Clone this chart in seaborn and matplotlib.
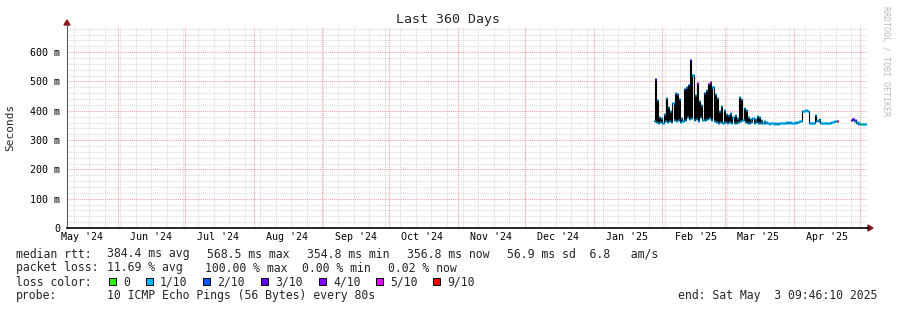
import numpy as np
import pandas as pd
import matplotlib
matplotlib.use("Agg")
import matplotlib.pyplot as plt
import matplotlib.dates as mdates
from matplotlib.patches import Rectangle
import seaborn as sns

W, H = 897, 310

# ---------------- data (ms), one entry per day from first_day ----------------
first_day = "2025-01-28"
rtt_hi = [508, 437, 380, 375, 388, 444, 412, 400, 425, 461,
          458, 440, 375, 475, 482, 489, 574, 522, 454, 495,
          432, 420, 462, 472, 492, 497, 480, 458, 444, 400,
          415, 402, 390, 385, 392, 380, 385, 375, 447, 440,
          410, 402, 380, 372, 375, 372, 382, 378, 368, 365,
          362, 360, 358, 360, 359, 358, 358, 360, 360, 361,
          362, 362, 360, 362, 362, 364, 366, 400, 403, 398,
          357, 357, 386, 368, 372, 357, 357, 357, 357, 358,
          363, 365, 365, np.nan, np.nan, np.nan, np.nan, np.nan, np.nan, 372,
          368, 362, 357, 355, 355, 355]
rtt_lo = [365, 362, 360, 362, 360, 365, 362, 365, 362, 368,
          365, 370, 362, 365, 370, 380, 372, 375, 368, 372,
          365, 380, 368, 370, 372, 375, 370, 365, 362, 360,
          362, 360, 362, 360, 362, 358, 360, 360, 362, 365,
          368, 362, 360, 360, 362, 360, 362, 360, 358, 358,
          360, 358, 356, 358, 356, 355, 356, 357, 358, 359,
          360, 360, 358, 360, 360, 362, 364, 398, 402, 398,
          357, 357, 357, 366, 366, 357, 357, 357, 357, 357,
          362, 364, 365, np.nan, np.nan, np.nan, np.nan, np.nan, np.nan, 370,
          366, 360, 356, 355, 355, 355]
loss_hi = [3, 1, 1, 1, 1, 1, 1, 1, 1, 1,
           2, 1, 1, 2, 1, 2, 3, 1, 1, 5,
           1, 1, 2, 1, 4, 5, 1, 1, 1, 1,
           1, 1, 1, 1, 1, 1, 1, 1, 1, 1,
           1, 1, 1, 1, 1, 1, 1, 1, 1, 1,
           1, 1, 1, 1, 1, 1, 1, 1, 1, 1,
           1, 1, 1, 1, 1, 1, 1, 1, 1, 1,
           1, 1, 1, 1, 1, 1, 1, 1, 1, 1,
           1, 1, 9, 1, 1, 1, 1, 1, 1, 3,
           2, 1, 1, 0, 1, 1]
loss_lo = [1, 1, 1, 1, 1, 1, 1, 1, 1, 1,
           1, 1, 1, 1, 1, 1, 1, 1, 1, 1,
           1, 1, 1, 1, 1, 1, 1, 1, 1, 1,
           1, 1, 1, 1, 1, 1, 1, 1, 1, 1,
           1, 1, 1, 1, 1, 1, 1, 1, 1, 1,
           1, 1, 1, 1, 1, 1, 1, 1, 1, 1,
           1, 1, 1, 1, 1, 1, 1, 1, 1, 1,
           1, 1, 1, 1, 1, 1, 1, 1, 1, 1,
           1, 1, 1, 1, 1, 1, 1, 1, 1, 3,
           1, 1, 1, 1, 1, 1]

loss_levels = [0, 1, 2, 3, 4, 5, 9]
loss_labels = ["0", "1/10", "2/10", "3/10", "4/10", "5/10", "9/10"]
loss_colors = ["#26ff00", "#00b8ff", "#0059ff", "#5e00ff", "#7e00ff", "#dd00ff", "#ff0000"]

y_ticks_ms = [0, 100, 200, 300, 400, 500, 600]
y_tick_labels = ["0", "100 m", "200 m", "300 m", "400 m", "500 m", "600 m"]

view_start = "2024-05-09 01:00"
view_end = "2025-05-04 01:00"
y_top_ms = 686

# ---------------- build the half-day series ----------------
days = pd.date_range(first_day, periods=len(rtt_hi), freq="D")
half = pd.Timedelta(hours=12)
rows = []
seg = 0
for d, lo, hi, llo, lhi in zip(days, rtt_lo, rtt_hi, loss_lo, loss_hi):
    if np.isnan(lo):
        seg += 1
        continue
    rows.append((d, lo / 1000.0, llo, seg))
    rows.append((d + half, hi / 1000.0, lhi, seg))
df = pd.DataFrame(rows, columns=["t", "v", "loss", "seg"])
ends = []
for s, g in df.groupby("seg"):
    last = g.iloc[-1]
    ends.append((last["t"] + half, last["v"], last["loss"], s))
df_line = pd.concat([df, pd.DataFrame(ends, columns=df.columns)]).sort_values(["seg", "t"])

color_of = dict(zip(loss_levels, loss_colors))

# ---------------- figure ----------------
sns.set_style("white")
plt.rcParams["font.family"] = ["DejaVu Sans Mono"]

fig = plt.figure(figsize=(W / 100, H / 100), dpi=100)
fig.patch.set_facecolor("white")
ax = fig.add_axes([67 / W, (H - 228) / H, 800 / W, 201 / H])
ax.set_facecolor("white")

x0 = mdates.date2num(pd.Timestamp(view_start))
x1 = mdates.date2num(pd.Timestamp(view_end))
ax.set_xlim(x0, x1)
ax.set_ylim(0, y_top_ms / 1000.0)

grid_minor = dict(color="#d9d9d9", lw=0.75, ls=(0, (1, 1)), zorder=0.5)
grid_major = dict(color="#f2a0a0", lw=0.75, ls=(0, (1, 1)), zorder=0.6)

for v in range(0, y_top_ms, 20):
    if v % 100 != 0 and v > 0:
        ax.axhline(v / 1000.0, **grid_minor)
for v in y_ticks_ms[1:]:
    ax.axhline(v / 1000.0, **grid_major)
sundays = pd.date_range(view_start, view_end, freq="W-SUN")
months = pd.date_range("2024-06-01", view_end, freq="MS")
for s in sundays:
    ax.axvline(mdates.date2num(s), **grid_minor)
for m in months:
    ax.axvline(mdates.date2num(m), **grid_major)

# median line transitions (black) with seaborn
sns.lineplot(data=df_line, x="t", y="v", units="seg", estimator=None,
             drawstyle="steps-post", color="black", lw=0.8, ax=ax,
             sort=False, legend=False, zorder=3)
# loss colored median segments
ax.hlines(df["v"], mdates.date2num(df["t"]), mdates.date2num(df["t"] + half),
          colors=[color_of[int(l)] for l in df["loss"]], lw=2.1, zorder=4,
          capstyle="butt")

ax.set_xlabel("")
ax.set_ylabel("")

label_days = [pd.Timestamp("2024-05-16")] + list(
    pd.date_range("2024-06-01", "2025-04-30", freq="MS") + pd.Timedelta(days=15))
ax.set_xticks([mdates.date2num(d) for d in label_days])
ax.set_xticklabels([d.strftime("%b '%y") for d in label_days])
ax.set_yticks([v / 1000.0 for v in y_ticks_ms])
ax.set_yticklabels(y_tick_labels)
ax.tick_params(axis="both", length=0, labelsize=7.2, colors="black")
ax.tick_params(axis="y", pad=5)
ax.tick_params(axis="x", pad=3)
ax.grid(False)

for sp in ["top", "right"]:
    ax.spines[sp].set_visible(False)
ax.spines["left"].set_color("#555555")
ax.spines["left"].set_linewidth(0.75)
ax.spines["bottom"].set_color("black")
ax.spines["bottom"].set_linewidth(1.2)
ax.spines["left"].set_zorder(5)
ax.spines["bottom"].set_zorder(5)

def fx(px):
    return px / W
def fy(py):
    return 1 - py / H

fig.add_artist(plt.Line2D([fx(67), fx(67)], [fy(27), fy(24)], color="#555555", lw=0.75))
fig.add_artist(plt.Line2D([fx(867), fx(869)], [fy(228), fy(228)], color="black", lw=1.2))
fig.add_artist(plt.Polygon([[fx(64), fy(25)], [fx(70), fy(25)], [fx(67), fy(20)]],
                           closed=True, color="#8b1a1a", transform=fig.transFigure))
fig.add_artist(plt.Polygon([[fx(868), fy(225)], [fx(868), fy(231)], [fx(873), fy(228)]],
                           closed=True, color="#8b1a1a", transform=fig.transFigure))

fig.text(fx(448), fy(19), "Last 360 Days", ha="center", va="center", fontsize=9.5)
fig.text(fx(10), fy(127), "Seconds", ha="center", va="center", rotation=90, fontsize=8)
fig.text(fx(886), fy(6), "RRDTOOL / TOBI OETIKER", ha="center", va="top", rotation=-90,
         fontsize=6, color="#bbbbbb")

fs = 8.3
def t(px, py, s, **kw):
    fig.text(fx(px), fy(py), s, ha="left", va="center", fontsize=fs, **kw)

t(16, 254, "median rtt:")
t(107, 254, "384.4 ms avg")
t(207, 254, "568.5 ms max")
t(307, 254, "354.8 ms min")
t(407, 254, "356.8 ms now")
t(507, 254, "56.9 ms sd  6.8   am/s")

t(16, 268, "packet loss:")
t(107, 268, "11.69 % avg")
t(205, 268, "100.00 % max")
t(302, 268, "0.00 % min")
t(388, 268, "0.02 % now")

t(16, 282, "loss color:")
box_x = [109, 146, 203, 261, 319, 376, 433]
lab_x = [123, 160, 217, 275, 333, 390, 447]
for bx, lx, col, lab in zip(box_x, lab_x, loss_colors, loss_labels):
    fig.add_artist(Rectangle((fx(bx), fy(285)), 7 / W, 7 / H, facecolor=col,
                             edgecolor="black", lw=0.7, transform=fig.transFigure))
    t(lx, 282, lab)

t(16, 296, "probe:")
t(107, 296, "10 ICMP Echo Pings (56 Bytes) every 80s")
t(678, 296, "end: Sat May  3 09:46:10 2025")

fig.savefig("out.png", dpi=100, facecolor="white")
